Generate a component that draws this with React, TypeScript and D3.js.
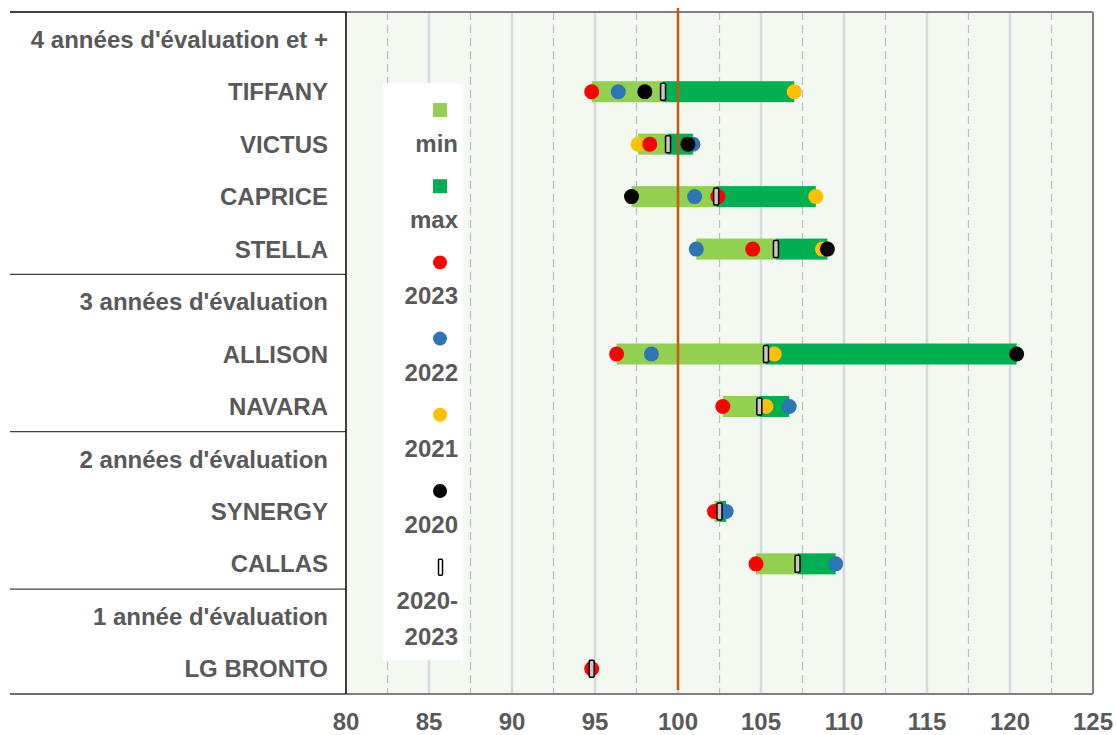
import * as d3 from 'd3';

// rows of the vertical axis (group headers + varieties)
const categories = [
  "4 années d'évaluation et +",
  'TIFFANY',
  'VICTUS',
  'CAPRICE',
  'STELLA',
  "3 années d'évaluation",
  'ALLISON',
  'NAVARA',
  "2 années d'évaluation",
  'SYNERGY',
  'CALLAS',
  "1 année d'évaluation",
  'LG BRONTO',
];
const groupStarts = [
  "3 années d'évaluation",
  "2 années d'évaluation",
  "1 année d'évaluation",
];

const varieties = ['TIFFANY', 'VICTUS', 'CAPRICE', 'STELLA', 'ALLISON', 'NAVARA', 'SYNERGY', 'CALLAS', 'LG BRONTO'];
const v2023 = [94.8, 98.3, 102.4, 104.5, 96.3, 102.7, 102.2, 104.7, 94.8];
const v2022 = [96.4, 100.9, 101.0, 101.1, 98.4, 106.7, 102.9, 109.5, null];
const v2021 = [107.0, 97.6, 108.3, 108.7, 105.8, 105.3, null, null, null];
const v2020 = [98.0, 100.6, 97.2, 109.0, 120.4, null, null, null, null];
const mean2020_2023 = [99.1, 99.4, 102.3, 105.9, 105.3, 104.9, 102.5, 107.2, 94.8];

const xTicks = [80, 85, 90, 95, 100, 105, 110, 115, 120, 125];
const refValue = 100;

const C = {
  min: '#92D050',
  max: '#00B050',
  y2023: '#FF0000',
  y2022: '#2E75B6',
  y2021: '#FFC000',
  y2020: '#000000',
  text: '#595959',
};

const series = [
  { name: '2021', values: v2021, color: C.y2021 },
  { name: '2022', values: v2022, color: C.y2022 },
  { name: '2023', values: v2023, color: C.y2023 },
  { name: '2020', values: v2020, color: C.y2020 },
];

const W = 1116;
const H = 735;
const plot = { left: 346, right: 1093, top: 12, bottom: 694 };
const font = "'Liberation Sans', Arial, sans-serif";

const App = () => {
  const x = d3.scaleLinear().domain([80, 125]).range([plot.left, plot.right]);
  const y = d3.scaleBand().domain(categories).range([13, 695]).padding(0);
  const yc = (c: string) => (y(c) as number) + y.bandwidth() / 2;

  const rows = varieties.map((v, i) => {
    const vals = [v2023[i], v2022[i], v2021[i], v2020[i]].filter((d) => d != null) as number[];
    return { name: v, lo: d3.min(vals) as number, hi: d3.max(vals) as number, mean: mean2020_2023[i] };
  });

  const solid = d3.range(85, 125, 5);
  const dashed = d3.range(82.5, 125, 5);
  const barH = 21;

  const legend = [
    { label: ['min'], kind: 'sq', color: C.min },
    { label: ['max'], kind: 'sq', color: C.max },
    { label: ['2023'], kind: 'dot', color: C.y2023 },
    { label: ['2022'], kind: 'dot', color: C.y2022 },
    { label: ['2021'], kind: 'dot', color: C.y2021 },
    { label: ['2020'], kind: 'dot', color: C.y2020 },
    { label: ['2020-', '2023'], kind: 'mk', color: '#fff' },
  ];

  return (
    <svg width={W} height={H} style={{ position: 'absolute', left: 0, top: 0, background: '#fff' }}>
      <rect x={plot.left} y={plot.top} width={plot.right - plot.left} height={plot.bottom - plot.top} fill="#F3F8F1" />
      {dashed.map((d) => (
        <line key={'d' + d} x1={x(d)} x2={x(d)} y1={plot.top} y2={plot.bottom} stroke="#BFBFBF" strokeWidth={1.2} strokeDasharray="8,5" />
      ))}
      {solid.map((d) => (
        <line key={'s' + d} x1={x(d)} x2={x(d)} y1={plot.top} y2={plot.bottom} stroke="#D9D9D9" strokeWidth={2.5} />
      ))}

      {/* borders */}
      <line x1={plot.left} x2={plot.right} y1={plot.top} y2={plot.top} stroke="#808080" strokeWidth={2} />
      <line x1={plot.right} x2={plot.right} y1={plot.top} y2={plot.bottom} stroke="#808080" strokeWidth={2} />
      <line x1={plot.left} x2={plot.right} y1={plot.bottom} y2={plot.bottom} stroke="#808080" strokeWidth={2} />
      <line x1={10} x2={plot.left} y1={plot.top} y2={plot.top} stroke="#000" strokeWidth={1.5} />
      <line x1={10} x2={plot.left} y1={plot.bottom} y2={plot.bottom} stroke="#404040" strokeWidth={1.5} />
      {groupStarts.map((g) => (
        <line key={g} x1={10} x2={plot.left} y1={(y(g) as number) - 1} y2={(y(g) as number) - 1} stroke="#404040" strokeWidth={1.2} />
      ))}
      <line x1={plot.left} x2={plot.left} y1={plot.top} y2={plot.bottom} stroke="#000" strokeWidth={1.5} />

      {/* legend */}
      <rect x={383} y={83} width={80} height={577} fill="#fff" />
      {legend.map((l, i) => {
        const cy = 110 + i * 76.2;
        return (
          <g key={l.label.join('')}>
            {l.kind === 'sq' && <rect x={433} y={cy - 7} width={14} height={14} fill={l.color} />}
            {l.kind === 'dot' && <circle cx={440} cy={cy} r={7} fill={l.color} />}
            {l.kind === 'mk' && (
              <rect x={438.5} y={cy - 8} width={4} height={16} rx={1} fill="#fff" stroke="#000" strokeWidth={1.5} />
            )}
            {l.label.map((t, j) => (
              <text key={t} x={458} y={cy + 42 + j * 36} textAnchor="end" fontFamily={font} fontWeight="bold" fontSize={24} fill={C.text}>
                {t}
              </text>
            ))}
          </g>
        );
      })}

      {/* range bars */}
      {rows.map((r) => (
        <g key={r.name}>
          <rect x={x(r.lo)} y={yc(r.name) - barH / 2} width={x(r.mean) - x(r.lo)} height={barH} fill={C.min} />
          <rect x={x(r.mean)} y={yc(r.name) - barH / 2} width={x(r.hi) - x(r.mean)} height={barH} fill={C.max} />
        </g>
      ))}

      <line x1={x(refValue)} x2={x(refValue)} y1={8} y2={690} stroke="#C55A11" strokeWidth={2.5} />

      {/* yearly values */}
      {series.map((s) =>
        s.values.map((v, i) =>
          v == null ? null : <circle key={s.name + i} cx={x(v)} cy={yc(varieties[i])} r={7.5} fill={s.color} />
        )
      )}
      {rows.map((r) => (
        <rect key={'m' + r.name} x={x(r.mean) - 2.5} y={yc(r.name) - 8.5} width={5} height={17} rx={1.2} fill="#C8C8C8" stroke="#000" strokeWidth={1.5} />
      ))}

      {/* category labels */}
      {categories.map((c) => (
        <text key={c} x={328} y={yc(c)} dy="0.36em" textAnchor="end" fontFamily={font} fontWeight="bold" fontSize={24} fill={C.text}>
          {c}
        </text>
      ))}

      {/* x tick labels */}
      {xTicks.map((t) => (
        <text key={t} x={x(t)} y={721} dy="0.36em" textAnchor="middle" fontFamily={font} fontWeight="bold" fontSize={24} fill={C.text}>
          {t}
        </text>
      ))}
    </svg>
  );
};

export default App;
